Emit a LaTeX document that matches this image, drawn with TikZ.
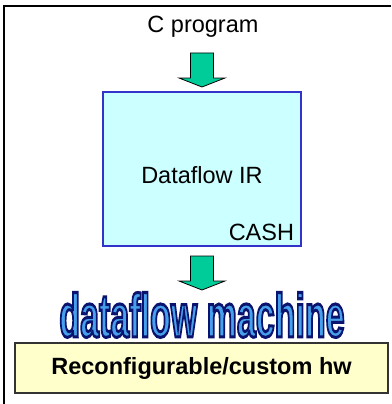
\documentclass[tikz,border=0pt]{standalone}
\usepackage{fontspec}
\setmainfont{Liberation Sans}
\newfontfamily\wordartout{Liberation Sans Bold}[FakeBold=5]
\definecolor{arrowgreen}{RGB}{0,204,153}
\definecolor{irfill}{RGB}{204,255,255}
\definecolor{irdraw}{RGB}{51,51,204}
\definecolor{hwfill}{RGB}{255,255,204}
\definecolor{artblue}{RGB}{70,160,235}
% word art: blue fill with a navy stroke
\newcommand{\artword}[1]{%
  {\color{artblue}\special{pdf:literal 0.04 0.08 0.43 RG}\wordartout #1}}
\tikzset{%
  label/.style    = {font=\fontsize{23.5}{28}\selectfont, inner sep=0pt},%
  irbox/.style    = {rectangle, draw=irdraw, line width=2.5pt, fill=irfill,%
                     minimum width=198pt, minimum height=154pt},%
  hwbox/.style    = {rectangle, draw=black!80, line width=1.5pt, fill=hwfill,%
                     minimum width=373pt, minimum height=50pt,%
                     font=\fontsize{23.5}{28}\selectfont\bfseries},%
  art/.style      = {inner sep=0pt, xscale=1.0, yscale=1.8,%
                     font=\fontsize{34}{40}\selectfont},%
  bigarrow/.pic   = {\draw[fill=arrowgreen, line width=0.8pt, line join=miter]
                     (-11.5,0) -- (-11.5,25) -- (-23,25) -- (0,34)
                     -- (23,25) -- (11.5,25) -- (11.5,0) -- cycle;}%
}
\begin{document}
\begin{tikzpicture}[x=1pt,y=-1pt]
  \useasboundingbox (0,0) rectangle (391,404);
  % frame
  \draw[line width=2pt] (4,404) -- (4,6) -- (391,6);
  \node[label] (cprog) at (203,27) {C program};
  \pic at (202,53) {bigarrow};
  \node[irbox] (ir) at (202,169) {};
  \node[label] (irtext) at (202,175) {Dataflow IR};
  \node[label, anchor=south east] (cash) at (ir.south east) [xshift=-8pt,yshift=6pt] {CASH};
  \pic at (202,256) {bigarrow};
  % dataflow machine
  \node[art] (art) at (202,315) {\artword{dataflow machine}};
  \node[hwbox] (hw) at (201.5,368) {Reconfigurable/custom hw};
\end{tikzpicture}
\end{document}
